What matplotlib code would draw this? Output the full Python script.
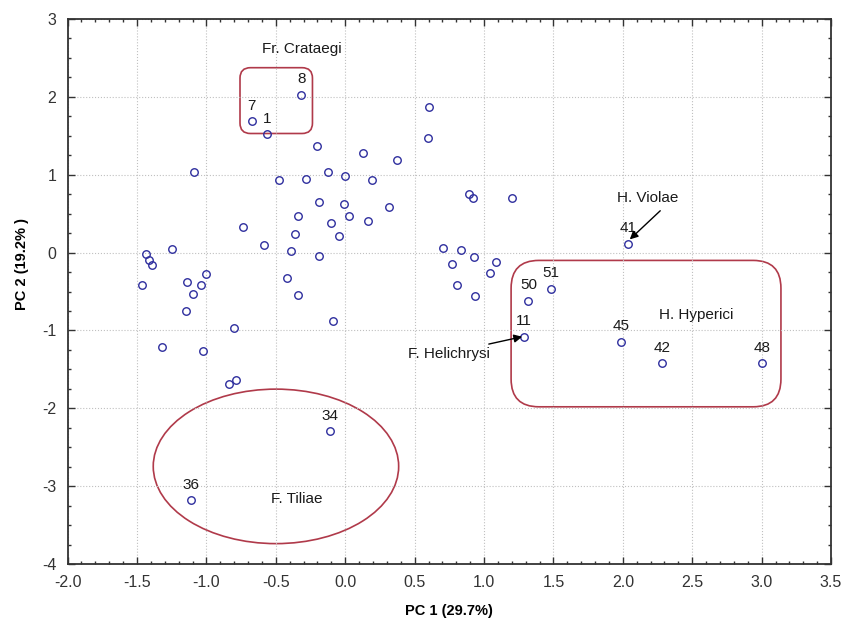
import matplotlib
matplotlib.use("Agg")
import matplotlib.pyplot as plt
from matplotlib.patches import FancyBboxPatch, Ellipse
from matplotlib.ticker import MultipleLocator

plt.rcParams['font.family'] = ['Liberation Sans', 'DejaVu Sans']
plt.rcParams['axes.unicode_minus'] = False

# PCA scores (PC1, PC2), label '' = unlabeled
pc1 = [-0.317, -0.673, -0.56, 0.60, 0.594, -0.20, 0.125, 0.373, -1.09, -0.125,
       -0.005, -0.478, -0.28, 0.19, -0.188, -0.012, 0.313, -0.337, 0.027, -0.103,
       0.166, -0.738, -0.363, -0.046, -0.587, -1.246, -0.392, -0.188, -1.436, -1.41,
       -1.395, -1.462, -1.138, -1.04, -1.005, -1.10, -0.42, -0.337, 0.89, 0.924,
       1.20, 2.035, 0.705, 0.837, 0.93, 1.087, 0.772, 1.04, 0.808, 0.938,
       1.479, 1.32, 1.29, 1.99, 2.28, 3.006, -1.147, -0.80, -0.09, -1.32,
       -1.025, -0.837, -0.789, -0.113, -1.113]
pc2 = [2.03, 1.69, 1.52, 1.87, 1.47, 1.37, 1.275, 1.19, 1.03, 1.03,
       0.98, 0.93, 0.945, 0.93, 0.65, 0.63, 0.58, 0.468, 0.468, 0.386,
       0.40, 0.33, 0.236, 0.22, 0.098, 0.05, 0.017, -0.048, -0.018, -0.10,
       -0.164, -0.41, -0.38, -0.42, -0.28, -0.53, -0.33, -0.54, 0.755, 0.696,
       0.696, 0.116, 0.064, 0.03, -0.05, -0.116, -0.15, -0.267, -0.41, -0.563,
       -0.464, -0.615, -1.08, -1.143, -1.42, -1.42, -0.75, -0.967, -0.88, -1.21,
       -1.26, -1.69, -1.64, -2.29, -3.18]
labels = ['8', '7', '1', '', '', '', '', '', '', '',
          '', '', '', '', '', '', '', '', '', '',
          '', '', '', '', '', '', '', '', '', '',
          '', '', '', '', '', '', '', '', '', '',
          '', '41', '', '', '', '', '', '', '', '',
          '51', '50', '11', '45', '42', '48', '', '', '', '',
          '', '', '', '34', '36']

fig = plt.figure(figsize=(8.45, 6.24), dpi=100)
ax = fig.add_axes([0.080, 0.096, 0.9035, 0.8735])

ax.plot(pc1, pc2, 'o', mfc='none', mec='#2e2e9e', ms=5.4, mew=1.0, zorder=3)
for x, y, t in zip(pc1, pc2, labels):
    if t:
        ax.annotate(t, (x, y), xytext=(0, 11), textcoords='offset points',
                    ha='center', va='center', fontsize=11, color='#1a1a1a')

red = '#b03a4a'
asp = 1.78
ax.add_patch(FancyBboxPatch((-0.758, 1.53), 0.522, 0.845,
                            boxstyle='round,pad=0,rounding_size=0.075',
                            mutation_aspect=asp, fill=False, ec=red, lw=1.2))
ax.add_patch(FancyBboxPatch((1.195, -1.98), 1.944, 1.88,
                            boxstyle='round,pad=0,rounding_size=0.2',
                            mutation_aspect=asp, fill=False, ec=red, lw=1.2))
ax.add_patch(Ellipse((-0.499, -2.745), 1.768, 1.984, fill=False, ec=red, lw=1.2))

ax.text(-0.31, 2.62, 'Fr. Crataegi', ha='center', va='center', fontsize=11, color='#1a1a1a')
ax.text(2.525, -0.795, 'H. Hyperici', ha='center', va='center', fontsize=11, color='#1a1a1a')
ax.text(-0.35, -3.17, 'F. Tiliae', ha='center', va='center', fontsize=11, color='#1a1a1a')
ax.annotate('H. Violae', xy=(2.05, 0.17), xytext=(2.18, 0.70), ha='center', va='center',
            fontsize=11, color='#1a1a1a',
            arrowprops=dict(arrowstyle='-|>', color='black', lw=1, shrinkA=3, shrinkB=0,
                            relpos=(0.8, 0.0), mutation_scale=12))
ax.annotate('F. Helichrysi', xy=(1.275, -1.08), xytext=(0.75, -1.30), ha='center', va='center',
            fontsize=11, color='#1a1a1a',
            arrowprops=dict(arrowstyle='-|>', color='black', lw=1, shrinkA=0, shrinkB=0,
                            relpos=(0.75, 0.9), mutation_scale=12))

ax.set_xlim(-2.0, 3.5)
ax.set_ylim(-4, 3)
ax.xaxis.set_major_locator(MultipleLocator(0.5))
ax.xaxis.set_minor_locator(MultipleLocator(0.1))
ax.yaxis.set_major_locator(MultipleLocator(1))
ax.yaxis.set_minor_locator(MultipleLocator(0.25))
ax.xaxis.set_major_formatter(matplotlib.ticker.FormatStrFormatter('%.1f'))
ax.tick_params(which='both', direction='in', top=True, right=True, color='#333333')
ax.tick_params(which='major', length=5, width=1, labelsize=11.5, labelcolor='#333333', pad=8)
ax.tick_params(which='minor', length=2.5, width=1)
ax.grid(True, which='major', ls=':', color='#c0c0c0', lw=0.8)
for s in ax.spines.values():
    s.set_color('#333333')
    s.set_linewidth(1.3)

ax.set_xlabel('PC 1 (29.7%)', fontsize=10.5, fontweight='bold', labelpad=10)
ax.set_ylabel('PC 2 (19.2% )', fontsize=10.5, fontweight='bold', labelpad=10)
ax.yaxis.set_label_coords(-0.05, 0.55)

fig.savefig('out.png', dpi=100)
